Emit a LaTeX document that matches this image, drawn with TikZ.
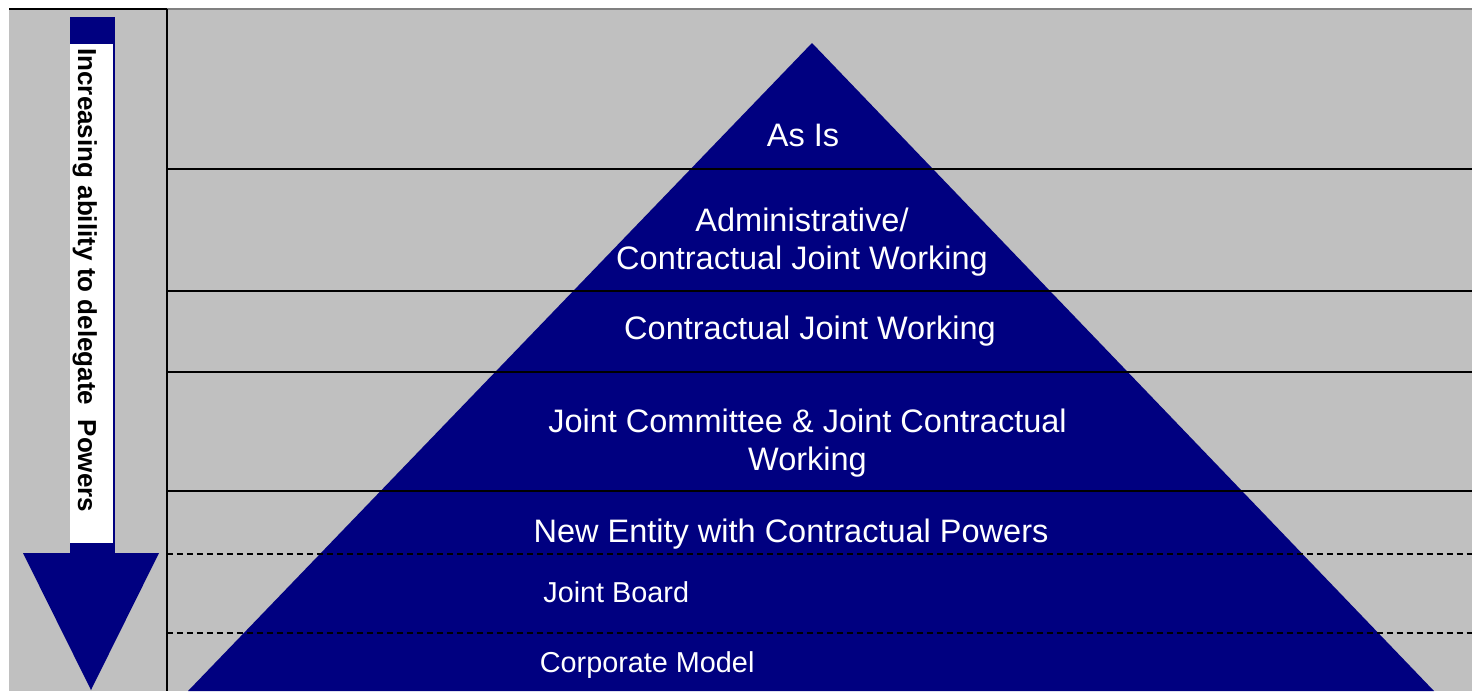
\documentclass[tikz,border=0pt]{standalone}
\usepackage{fontspec}
\setmainfont{Liberation Sans}
\definecolor{navyblue}{RGB}{0,0,128}
\definecolor{panelgray}{RGB}{192,192,192}

\begin{document}
\begin{tikzpicture}[x=0.02cm, y=-0.02cm,
        band/.style = {draw=black, line width=0.6pt},
        subband/.style = {band, dash pattern=on 0.12cm off 0.08cm},
        tier/.style = {text=white, inner sep=0pt, anchor=base, align=center, font=\fontsize{18.5}{21.6}\selectfont},
        subtier/.style = {tier, anchor=base west, font=\fontsize{16.4}{19.5}\selectfont},
        ]
        \useasboundingbox (0,0) rectangle (1472,691);
        \fill[panelgray] (9,9) rectangle (1472,691);
        \draw[black, line width=0.6pt] (9,9) -- (167,9);
        \draw[gray, line width=0.6pt] (167,9) -- (1472,9);
        % pyramid
        \fill[navyblue] (812,43) -- (188,691) -- (1434,691) -- cycle;
        % tier borders
        \foreach \y in {169,291,372,491}
            \draw[band] (167,\y) -- (1472,\y);
        \foreach \y in {554,633}
            \draw[subband] (167,\y) -- (1472,\y);
        \draw[band] (167,9) -- (167,691);
        % tier labels (base = last line)
        \node[tier] (asis) at (803,146) {As Is};
        \node[tier] (admin) at (802,269) {Administrative/\\Contractual Joint Working};
        \node[tier] (contract) at (810,339) {Contractual Joint Working};
        \node[tier] (jointcom) at (807.5,470) {Joint Committee \& Joint Contractual\\Working};
        \node[tier] (entity) at (791,542) {New Entity with Contractual Powers};
        \node[subtier] (board) at (543,602) {Joint Board};
        \node[subtier] (corporate) at (539.5,672) {Corporate Model};
        % delegation arrow
        \fill[navyblue] (70,17) rectangle (115,553);
        \fill[navyblue] (23,553) -- (159,553) -- (91,690) -- cycle;
        \fill[white] (70,44) rectangle (113,543);
        \node[rotate=-90, anchor=base west, inner sep=0pt, font=\fontsize{14.8}{18}\selectfont\bfseries] (powers) at (78,48) {Increasing ability to delegate\ \ Powers};
    \end{tikzpicture}
\end{document}
